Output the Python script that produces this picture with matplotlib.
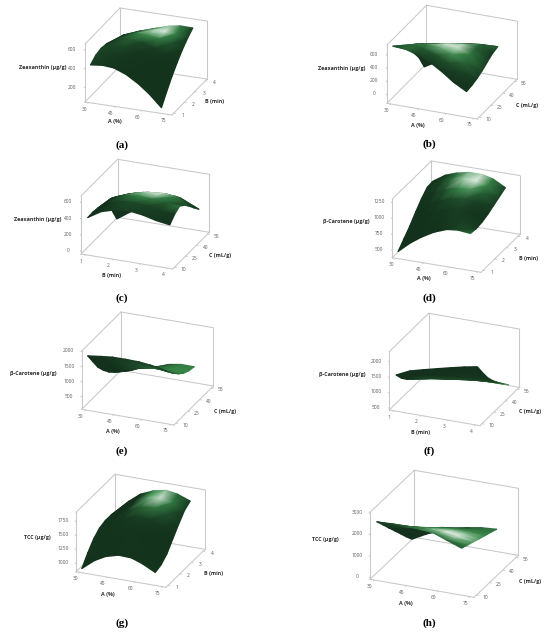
"""Eight response surfaces (panels a-h) drawn as tilted 3D boxes."""

import matplotlib

matplotlib.use("Agg")
import matplotlib.pyplot as plt
import matplotlib.tri as mtri
import numpy as np
from matplotlib.colors import LinearSegmentedColormap
from mpl_toolkits.mplot3d import proj3d

W, H = 550, 636

A_TICKS = [30, 45, 60, 75]
B_TICKS = [1, 2, 3, 4]
C_TICKS = [10, 25, 40, 55]

A_LEVELS = [30, 37, 43, 50, 57, 63, 70]
B_LEVELS = [1, 1.5, 2, 2.5, 3, 3.5, 4]
C_LEVELS = [10, 16.7, 23.3, 30, 36.7, 43.3, 50]

A_LIM = (28, 76.9)
B_LIM = (0.83, 4.17)
C_LIM = (7.5, 57.5)

# rows follow the first factor, columns the second
ZEA_AB = [
    [420, 465, 480, 470, 430, 380, 300],
    [434, 490, 530, 545, 530, 480, 395],
    [425, 490, 530, 555, 560, 530, 470],
    [375, 445, 500, 540, 565, 555, 525],
    [294, 375, 445, 500, 545, 565, 566],
    [205, 300, 385, 450, 510, 555, 585],
    [77, 190, 295, 385, 465, 530, 582],
]
ZEA_AC = [
    [703, 608, 508, 403, 279, 129, -93],
    [688, 680, 608, 528, 440, 300, 20],
    [641, 660, 630, 550, 480, 350, 130],
    [560, 590, 610, 590, 510, 420, 240],
    [437, 500, 550, 570, 540, 470, 330],
    [315, 395, 450, 500, 510, 490, 400],
    [208, 220, 245, 285, 340, 390, 410],
]
ZEA_BC = [
    [391, 395, 385, 345, 285, 180, 15],
    [492, 525, 535, 495, 440, 340, 130],
    [540, 585, 600, 560, 505, 440, 215],
    [556, 600, 620, 605, 545, 480, 270],
    [534, 585, 610, 610, 560, 490, 300],
    [492, 550, 590, 600, 550, 470, 345],
    [467, 538, 575, 530, 455, 375, 299],
]
CAR_AB = [
    [442, 552, 662, 793, 913, 1007, 1016],
    [612, 720, 830, 940, 1040, 1110, 1144],
    [730, 830, 930, 1030, 1120, 1180, 1204],
    [842, 930, 1015, 1100, 1175, 1225, 1248],
    [916, 990, 1060, 1130, 1190, 1235, 1249],
    [935, 985, 1040, 1100, 1155, 1195, 1208],
    [914, 900, 915, 950, 1000, 1050, 1100],
]
CAR_AC = [
    [1798, 1429, 1066, 796, 566, 380, 217],
    [1855, 1520, 1200, 930, 700, 510, 350],
    [1895, 1590, 1300, 1040, 820, 650, 530],
    [1900, 1630, 1360, 1120, 920, 750, 606],
    [1890, 1620, 1370, 1150, 980, 840, 763],
    [1850, 1590, 1350, 1140, 990, 880, 826],
    [1775, 1515, 1295, 1102, 952, 862, 823],
]
CAR_BC = [
    [1514, 1240, 1039, 874, 717, 562, 418],
    [1722, 1420, 1180, 990, 810, 640, 487],
    [1839, 1520, 1260, 1060, 870, 700, 562],
    [1949, 1600, 1330, 1130, 930, 770, 640],
    [2056, 1700, 1410, 1190, 990, 820, 692],
    [2157, 1790, 1480, 1240, 1030, 840, 682],
    [2242, 1881, 1550, 1286, 1056, 848, 650],
]
TCC_AB = [
    [869, 1043, 1191, 1285, 1319, 1319, 1289],
    [1053, 1200, 1320, 1410, 1465, 1500, 1514],
    [1159, 1300, 1420, 1520, 1590, 1640, 1668],
    [1223, 1360, 1490, 1600, 1680, 1740, 1766],
    [1214, 1330, 1460, 1590, 1700, 1780, 1814],
    [1143, 1230, 1360, 1500, 1620, 1720, 1782],
    [1027, 1062, 1157, 1318, 1477, 1625, 1696],
]
TCC_AC = [
    [2499, 2098, 1697, 1297, 896, 495, 113],
    [2527, 2190, 1850, 1510, 1170, 830, 481],
    [2508, 2230, 1950, 1660, 1360, 1040, 710],
    [2490, 2250, 2010, 1770, 1530, 1230, 924],
    [2424, 2210, 1990, 1780, 1570, 1340, 1120],
    [2200, 2040, 1880, 1710, 1540, 1380, 1222],
    [1949, 1828, 1721, 1600, 1492, 1390, 1269],
]

ZEA = "Zeaxanthin (µg/g)"
CAR = "β-Carotene (µg/g)"
TCC = "TCC (µg/g)"
LAB_A, LAB_B, LAB_C = "A (%)", "B (min)", "C (mL/g)"

# letter, surface, z ticks, z limits, factor x, factor y, z label
# then pixel layout: front-left-bottom corner, x edge, y edge, box height,
# centre of z / x / y labels and of the caption
# last item is the glare on the surface: x value, y value, strength, spread
PANELS = [
    ("a", ZEA_AB, [200, 400, 600], (41, 656), "A", "B", ZEA,
     (85, 102), (87, 13), (35, 36), 58, (42.7, 67), (115, 121), (215, 101.7), (122, 145),
     (56, 3.6, 0.72, 0.9)),
    ("b", ZEA_AC, [0, 200, 400, 600], (-141, 741), "A", "C", ZEA,
     (387, 103.3), (90.3, 15.7), (39.4, 39.7), 58.3, (341.7, 68.3), (418.3, 125), (527.3, 105), (429, 144),
     (55, 30, 0.65, 1.1)),
    ("c", ZEA_BC, [0, 200, 400, 600], (-40, 670), "B", "C", ZEA,
     (81, 254), (91.7, 15), (36.6, 36.7), 58, (37.3, 219.7), (112, 276), (220, 256), (122, 298),
     (2.8, 35, 0.7, 1.0)),
    ("d", CAR_AB, [500, 750, 1000, 1250], (368, 1292), "A", "B", CAR,
     (392.3, 257.7), (88.7, 14.6), (39, 38), 58.7, (346, 222), (423.7, 278.3), (528.3, 258.3), (429, 298),
     (55, 3.6, 0.72, 1.1)),
    ("e", CAR_AC, [500, 1000, 1500, 2000], (60, 2000), "A", "C", CAR,
     (81.7, 409.3), (92.3, 15.7), (39.3, 39), 58.3, (33.3, 373), (113.3, 431.7), (225, 411), (122, 451),
     (65, 30, 0.2, 1.5)),
    ("f", CAR_BC, [500, 1000, 1500, 2000], (412, 2305), "B", "C", CAR,
     (389.3, 410), (90.7, 15.7), (39.3, 38.4), 58.3, (342.3, 374.7), (421, 432.3), (530, 412), (429, 451),
     (4, 50, 0.45, 1.0)),
    ("g", TCC_AB, [1000, 1250, 1500, 1750], (839, 1900), "A", "B", TCC,
     (76, 571.7), (90, 15.6), (39, 38), 59.4, (37.7, 537.7), (107.7, 594.3), (214, 573.7), (122, 623),
     (56, 3.6, 0.72, 0.9)),
    ("h", TCC_AC, [0, 1000, 2000, 3000], (-120, 3000), "A", "C", TCC,
     (370, 579.3), (104, 18), (44.3, 42), 67, (325.7, 539.7), (405.7, 604), (530.3, 581.3), (429, 623),
     (60, 23, 0.7, 1.2)),
]

FACTORS = {
    "A": (A_LEVELS, A_TICKS, A_LIM, LAB_A),
    "B": (B_LEVELS, B_TICKS, B_LIM, LAB_B),
    "C": (C_LEVELS, C_TICKS, C_LIM, LAB_C),
}

BOX = "#c8c8c8"
TICK = "#5a5a5a"
LABEL = "#303030"
LABEL_FONT = ["Open Sans", "DejaVu Sans"]

SHADE = LinearSegmentedColormap.from_list(
    "shade",
    [(0.0, "#12301b"), (0.15, "#14331d"), (0.55, "#39884a"), (0.8, "#8fc09a"), (1.0, "#e8f1e8")],
)
LIGHT_DIR = np.array([0.0, 0.12, 0.993])


def vertex_shade(X, Y, Z, lims, lengths, view, x_levels, y_levels, glare):
    """Shade value per grid node: dark on the underside, bright at the glare."""
    P = np.stack(
        [(v - lo) / (hi - lo) * ln for v, (lo, hi), ln in zip((X, Y, Z), lims, lengths)],
        axis=-1,
    )
    du = np.gradient(P, axis=0)
    dv = np.gradient(P, axis=1)
    n = np.cross(du, dv)
    n /= np.linalg.norm(n, axis=-1, keepdims=True)
    n *= np.sign(n[..., 2:3])
    lit = np.clip(n @ LIGHT_DIR, 0, 1)
    shade = 0.15 + 0.32 * lit**20

    gx, gy, strength, spread = glare
    ci = np.interp(gx, x_levels, np.arange(len(x_levels)))
    cj = np.interp(gy, y_levels, np.arange(len(y_levels)))
    ii, jj = np.meshgrid(np.arange(X.shape[0]), np.arange(X.shape[1]), indexing="ij")
    shade = shade + strength * np.exp(-((ii - ci) ** 2 + (jj - cj) ** 2) / (2 * spread**2))
    shade[(n @ view) < 0] = 0.06
    return np.clip(shade, 0, 1)


def to_pixels(ax, x, y, z):
    xs, ys, zs = proj3d.proj_transform(np.ravel(x), np.ravel(y), np.ravel(z), ax.get_proj())
    return ax.transData.transform(np.column_stack([xs, ys])), zs


def draw_surface(overlay, ax, X, Y, Z, shade):
    # project the nodes with the 3D axes, then paint far triangles first
    pix, zs = to_pixels(ax, X, Y, Z)
    nx, ny = X.shape
    tris = []
    for i in range(nx - 1):
        for j in range(ny - 1):
            a, b = i * ny + j, i * ny + j + 1
            c, d = (i + 1) * ny + j, (i + 1) * ny + j + 1
            tris += [(a, b, d), (a, d, c)]
    tris = np.array(tris)
    order = np.argsort(-zs[tris].mean(axis=1))
    mesh = mtri.Triangulation(pix[:, 0], pix[:, 1], tris[order])
    overlay.tripcolor(mesh, shade.ravel(), shading="gouraud", cmap=SHADE, vmin=0, vmax=1)


def draw_panel(fig, overlay, panel):
    letter, surf, zticks, zlim, fx, fy, zlabel, flb, xv, yv, height, zpos, xpos, ypos, cap, glare = panel
    x_levels, x_ticks, xlim, xlabel = FACTORS[fx]
    y_levels, y_ticks, ylim, ylabel = FACTORS[fy]

    # recover the camera from the pixel lengths of the box edges
    slope_x = xv[1] / xv[0]
    slope_y = yv[1] / yv[0]
    elev = np.arcsin(np.sqrt(slope_x * slope_y))
    turn = np.arctan(np.sqrt(slope_y / slope_x))
    lengths = (xv[0] / np.sin(turn), yv[0] / np.cos(turn), height / np.cos(elev))
    side = 1.85 * np.linalg.norm(lengths) / (1.8294640721620434 * 25 / 24)
    cx = flb[0] + (xv[0] + yv[0]) / 2
    cy = flb[1] + (xv[1] - yv[1] - height) / 2
    left = cx - 0.5135 * side
    bottom = (H - cy) - 0.5135 * side

    ax = fig.add_axes(
        [left / W, bottom / H, side / W, side / H],
        projection="3d",
        computed_zorder=False,
    )
    ax.set_proj_type("ortho")
    ax.view_init(elev=np.degrees(elev), azim=-np.degrees(turn))
    ax.set_box_aspect(lengths)

    x0, x1 = xlim
    y0, y1 = ylim
    z0, z1 = zlim
    ax.set_xlim(x0, x1)
    ax.set_ylim(y0, y1)
    ax.set_zlim(z0, z1)
    ax.set_xticks([])
    ax.set_yticks([])
    ax.set_zticks([])
    ax.set_axis_off()
    ax.apply_aspect()

    edges = [
        ((x0, x1), (y0, y0), (z0, z0)),
        ((x1, x1), (y0, y1), (z0, z0)),
        ((x0, x1), (y1, y1), (z0, z0)),
        ((x0, x0), (y0, y1), (z0, z0)),
        ((x0, x0), (y0, y0), (z0, z1)),
        ((x0, x0), (y1, y1), (z0, z1)),
        ((x1, x1), (y1, y1), (z0, z1)),
        ((x0, x0), (y0, y1), (z1, z1)),
        ((x0, x1), (y1, y1), (z1, z1)),
    ]
    for ex, ey, ez in edges:
        ax.plot(ex, ey, ez, color=BOX, lw=0.75, zorder=1)

    # small outward ticks, value labels offset in pixels from the tick
    tx = (x1 - x0) * 0.02
    ty = (y1 - y0) * 0.02
    style = dict(color=TICK, fontsize=3.5, ha="center", va="center", family=LABEL_FONT)
    for t in x_ticks:
        ax.plot((t, t), (y0, y0 - ty), (z0, z0), color=BOX, lw=0.6, zorder=1)
        p = to_pixels(ax, t, y0, z0)[0][0]
        overlay.text(p[0] - 4.5, p[1] - 6.5, str(t), **style)
    for t in y_ticks:
        ax.plot((x1, x1 + tx), (t, t), (z0, z0), color=BOX, lw=0.6, zorder=1)
        p = to_pixels(ax, x1, t, z0)[0][0]
        overlay.text(p[0] + 9, p[1] - 2, str(t), **style)
    for t in zticks:
        ax.plot((x0, x0), (y0, y0 - ty), (t, t), color=BOX, lw=0.6, zorder=1)
        p = to_pixels(ax, x0, y0, t)[0][0]
        overlay.text(p[0] - 13, p[1], str(t), **style)
    ax.set_xlim(x0, x1)
    ax.set_ylim(y0, y1)
    ax.set_zlim(z0, z1)

    X, Y = np.meshgrid(x_levels, y_levels, indexing="ij")
    Z = np.array(surf, dtype=float)
    view = np.array(
        [np.sin(turn) * np.cos(elev), -np.cos(turn) * np.cos(elev), np.sin(elev)]
    )
    shade = vertex_shade(X, Y, Z, (xlim, ylim, zlim), lengths, view, x_levels, y_levels, glare)
    draw_surface(overlay, ax, X, Y, Z, shade)

    bold = dict(
        color=LABEL, fontsize=3.9, fontweight="bold", ha="center", va="center",
        family=LABEL_FONT,
    )
    fig.text(zpos[0] / W, 1 - zpos[1] / H, zlabel, **bold)
    fig.text(xpos[0] / W, 1 - xpos[1] / H, xlabel, **bold)
    fig.text(ypos[0] / W, 1 - ypos[1] / H, ylabel, **bold)
    fig.text(
        cap[0] / W, 1 - cap[1] / H, f"({letter})", color="black", fontsize=8,
        fontweight="bold", ha="center", va="center", family="Liberation Serif",
    )


def main():
    fig = plt.figure(figsize=(W / 100, H / 100), dpi=100)
    # transparent pixel-space layer that carries the shaded surfaces
    overlay = fig.add_axes([0, 0, 1, 1], zorder=5)
    overlay.set_xlim(0, W)
    overlay.set_ylim(0, H)
    overlay.set_axis_off()
    for panel in PANELS:
        draw_panel(fig, overlay, panel)
    overlay.set_xlim(0, W)
    overlay.set_ylim(0, H)
    fig.savefig("out.png", dpi=100)
    plt.close(fig)


if __name__ == "__main__":
    main()
